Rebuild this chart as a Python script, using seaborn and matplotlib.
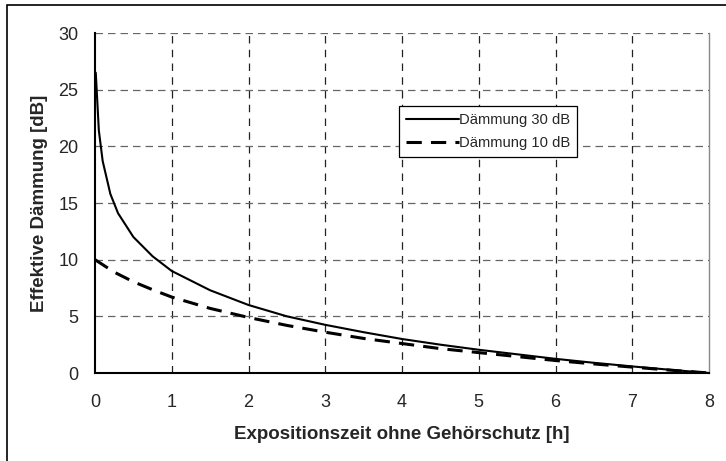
import pandas as pd
import matplotlib.pyplot as plt
import seaborn as sns
from matplotlib.patches import Rectangle

# values
t_30 = [0.01, 0.05, 0.1, 0.2, 0.3, 0.5, 0.75, 1.0, 1.5, 2.0, 2.5, 3.0, 3.5, 4.0,
        4.5, 5.0, 5.5, 6.0, 6.5, 7.0, 7.5, 8.0]
d_30 = [26.5, 21.4, 18.7, 15.8, 14.1, 12.0, 10.3, 9.0, 7.3, 6.0, 5.0, 4.25, 3.6, 3.0,
        2.5, 2.05, 1.65, 1.25, 0.9, 0.58, 0.28, 0.0]
t_10 = [0.0, 0.25, 0.5, 0.75, 1.0, 1.5, 2.0, 2.5, 3.0, 3.5, 4.0, 4.5, 5.0, 5.5,
        6.0, 6.5, 7.0, 7.5, 8.0]
d_10 = [10.0, 8.9, 8.05, 7.35, 6.7, 5.7, 4.9, 4.2, 3.6, 3.05, 2.6, 2.15, 1.8, 1.45,
        1.1, 0.8, 0.52, 0.25, 0.0]

labels = ['Dämmung 30 dB', 'Dämmung 10 dB']

df = pd.concat([
    pd.DataFrame({'t': t_30, 'd': d_30, 'serie': labels[0]}),
    pd.DataFrame({'t': t_10, 'd': d_10, 'serie': labels[1]}),
])

sns.set_style('white')
plt.rcParams['font.family'] = ['Liberation Sans', 'DejaVu Sans']

fig = plt.figure(figsize=(7.26, 4.61), dpi=100)
ax = fig.add_axes([95 / 726, 1 - 373 / 461, 614 / 726, 340 / 461])

# outer border of the picture (left and top visible)
fig.patches.append(Rectangle((7 / 726, -0.05), 1.2, 1 - 5 / 461 + 0.05,
                             transform=fig.transFigure, fill=False,
                             edgecolor='black', linewidth=1.2))

sns.lineplot(data=df[df.serie == labels[0]], x='t', y='d', ax=ax,
             color='black', linewidth=1.5, label=labels[0])
sns.lineplot(data=df[df.serie == labels[1]], x='t', y='d', ax=ax,
             color='black', linewidth=2.2, label=labels[1],
             dashes=False)
ax.lines[1].set_dashes([5, 3])

ax.set_xlim(0, 8)
ax.set_ylim(0, 30)
ax.set_xticks(range(0, 9))
ax.set_yticks(range(0, 31, 5))

for x in range(1, 8):
    ax.axvline(x, color='#222222', linewidth=0.9, dashes=(6, 5), zorder=0)
for y in range(5, 31, 5):
    ax.axhline(y, color='#666666', linewidth=0.9, dashes=(6, 4), zorder=0)

ax.spines['top'].set_visible(False)
ax.spines['right'].set_color('#888888')
ax.spines['right'].set_linewidth(1.0)
ax.spines['left'].set_color('black')
ax.spines['bottom'].set_color('black')
ax.spines['left'].set_linewidth(1.5)
ax.spines['bottom'].set_linewidth(1.5)

ax.tick_params(axis='both', labelsize=13, length=0)
ax.tick_params(axis='y', pad=12)
ax.tick_params(axis='x', pad=15)
ax.set_xlabel('Expositionszeit ohne Gehörschutz [h]', fontsize=13.5,
              fontweight='bold', labelpad=11)
ax.set_ylabel('Effektive Dämmung [dB]', fontsize=13.5, fontweight='bold',
              labelpad=7)

leg = ax.legend(loc='upper left', bbox_to_anchor=(0.495, 0.785), fontsize=10.6,
                frameon=True, fancybox=False, handlelength=3.6,
                handletextpad=0.05, borderpad=0.45, labelspacing=0.65,
                borderaxespad=0)
leg.get_frame().set_edgecolor('black')
leg.get_frame().set_linewidth(0.9)
leg.get_frame().set_alpha(1)

fig.savefig('out.png', dpi=100)
